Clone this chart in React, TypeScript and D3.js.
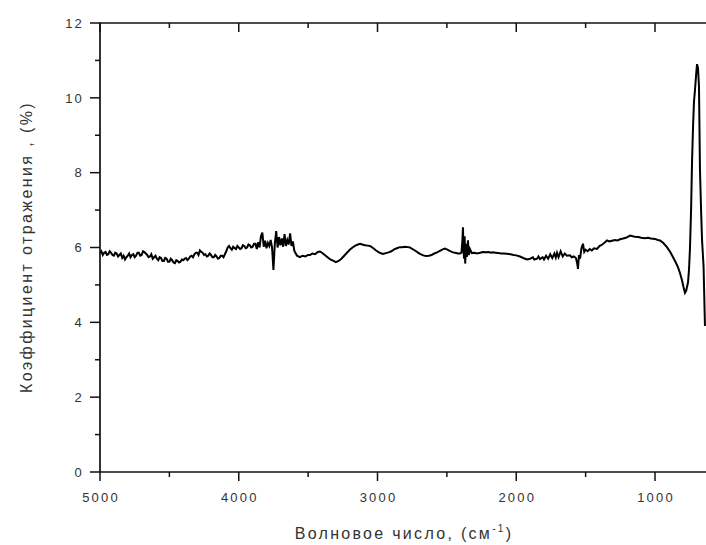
import React from "react";
import * as d3 from "d3";

const wavenumbers: number[] = [
  5000, 4990, 4980, 4970, 4960, 4950, 4940, 4930, 4920, 4910, 4900, 4890, 4880, 4870, 4860, 4850,
  4840, 4830, 4820, 4810, 4800, 4790, 4780, 4770, 4760, 4750, 4740, 4730, 4720, 4710, 4700, 4690,
  4680, 4670, 4660, 4650, 4640, 4630, 4620, 4610, 4600, 4590, 4580, 4570, 4560, 4550, 4540, 4530,
  4520, 4510, 4500, 4490, 4480, 4470, 4460, 4450, 4440, 4430, 4420, 4410, 4400, 4390, 4380, 4370,
  4360, 4350, 4340, 4330, 4320, 4310, 4300, 4290, 4280, 4270, 4260, 4250, 4240, 4230, 4220, 4210,
  4200, 4190, 4180, 4170, 4160, 4150, 4140, 4130, 4120, 4110, 4100, 4090, 4080, 4070, 4060, 4050,
  4040, 4030, 4020, 4010, 4000, 3990, 3980, 3970, 3960, 3950, 3940, 3930, 3920, 3910, 3900, 3890,
  3880, 3870, 3860, 3850, 3840, 3830, 3820, 3810, 3800, 3790, 3780, 3770, 3760, 3750, 3740, 3730,
  3720, 3710, 3700, 3690, 3680, 3670, 3660, 3650, 3640, 3630, 3620, 3610, 3600,
  3595, 3580, 3560, 3540, 3520, 3500, 3486, 3470, 3450, 3430, 3414, 3400, 3380, 3360, 3340, 3321,
  3300, 3280, 3260, 3240, 3220, 3200, 3180, 3160, 3140, 3126, 3110, 3090, 3070, 3054, 3030, 3010,
  2990, 2970, 2960, 2940, 2920, 2900, 2880, 2860, 2840, 2823, 2800, 2780, 2766, 2750, 2730, 2710,
  2694, 2670, 2650, 2630, 2610, 2590, 2571, 2550, 2530, 2514, 2500, 2480, 2456, 2440, 2420, 2405,
  2395, 2388, 2384, 2380, 2376, 2372, 2368, 2362, 2356, 2348, 2342, 2334, 2320, 2300, 2283, 2260,
  2240, 2220, 2200, 2180, 2168, 2150, 2130, 2110, 2090, 2067, 2040, 2020, 2000, 1973, 1950, 1923,
  1900, 1880, 1870, 1850, 1840, 1829, 1810, 1800, 1785, 1770, 1755, 1740, 1725, 1715, 1706, 1695,
  1680, 1665, 1650, 1635, 1613, 1600, 1585, 1570, 1562, 1555, 1548, 1540, 1530, 1519, 1510, 1500,
  1485, 1470, 1455, 1440, 1418, 1400, 1380, 1360, 1346, 1330, 1310, 1290, 1270, 1252, 1230, 1210,
  1190, 1180, 1160, 1144, 1120, 1100, 1072, 1050, 1030, 1000, 980, 964, 940, 914, 890, 870,
  850, 834, 820, 805, 795, 784, 775, 762, 755, 748, 740, 733, 726, 719, 712, 704,
  697, 690, 683, 676, 668, 661, 650, 640,
];

const reflectance: number[] = [
  5.85, 5.9, 5.8, 5.86, 5.88, 5.8, 5.82, 5.9, 5.86, 5.8, 5.78, 5.86, 5.84, 5.76, 5.8, 5.84,
  5.72, 5.78, 5.68, 5.74, 5.78, 5.84, 5.74, 5.8, 5.82, 5.74, 5.78, 5.86, 5.86, 5.78, 5.8, 5.9,
  5.88, 5.84, 5.8, 5.74, 5.76, 5.82, 5.7, 5.74, 5.78, 5.7, 5.66, 5.74, 5.72, 5.64, 5.64, 5.72,
  5.7, 5.62, 5.62, 5.7, 5.66, 5.6, 5.58, 5.66, 5.64, 5.6, 5.62, 5.68, 5.66, 5.7, 5.72, 5.66,
  5.7, 5.76, 5.78, 5.74, 5.82, 5.86, 5.86, 5.8, 5.92, 5.88, 5.86, 5.8, 5.82, 5.76, 5.78, 5.84,
  5.8, 5.74, 5.74, 5.8, 5.76, 5.7, 5.72, 5.78, 5.78, 5.74, 5.82, 5.9, 6.0, 6.04, 5.98, 5.94,
  6.02, 5.98, 5.96, 6.04, 6.0, 5.96, 5.98, 6.06, 6.04, 5.98, 6.0, 6.08, 6.06, 6.0, 6.02, 6.1,
  6.1, 5.96, 6.14, 6.0, 6.3, 6.4, 6.02, 6.18, 5.98, 6.12, 6.04, 6.2, 6.0, 5.4, 6.1, 6.44,
  6.0, 6.28, 6.06, 6.24, 6.02, 6.36, 6.04, 6.2, 6.08, 6.38, 6.04, 6.16, 5.92,
  5.88, 5.78, 5.74, 5.78, 5.76, 5.8, 5.8, 5.84, 5.82, 5.88, 5.89, 5.86, 5.8, 5.74, 5.68, 5.65,
  5.61, 5.64, 5.7, 5.78, 5.86, 5.94, 6.0, 6.05, 6.08, 6.1, 6.08, 6.06, 6.05, 6.04, 5.98, 5.92,
  5.87, 5.84, 5.83, 5.85, 5.87, 5.9, 5.95, 5.98, 6.01, 6.01, 6.02, 6.01, 6.0, 5.96, 5.92, 5.87,
  5.83, 5.79, 5.77, 5.78, 5.8, 5.84, 5.87, 5.91, 5.95, 5.97, 5.95, 5.91, 5.87, 5.86, 5.84, 5.84,
  5.86, 6.2, 6.54, 5.9, 5.7, 6.3, 5.57, 6.1, 5.75, 6.19, 5.8, 5.96, 5.85, 5.86, 5.84, 5.86,
  5.88, 5.87, 5.88, 5.86, 5.87, 5.86, 5.85, 5.84, 5.84, 5.83, 5.82, 5.8, 5.79, 5.76, 5.72, 5.68,
  5.7, 5.74, 5.68, 5.7, 5.76, 5.69, 5.74, 5.68, 5.78, 5.7, 5.82, 5.72, 5.84, 5.73, 5.86, 5.74,
  5.9, 5.76, 5.84, 5.78, 5.79, 5.74, 5.76, 5.72, 5.6, 5.43, 5.8, 5.7, 5.98, 6.1, 5.88, 5.94,
  5.9, 5.96, 5.92, 5.98, 5.96, 6.04, 6.08, 6.14, 6.19, 6.16, 6.18, 6.2, 6.19, 6.22, 6.24, 6.26,
  6.3, 6.32, 6.3, 6.29, 6.28, 6.26, 6.25, 6.26, 6.24, 6.23, 6.2, 6.19, 6.12, 6.01, 5.88, 5.74,
  5.6, 5.47, 5.32, 5.12, 4.95, 4.79, 4.85, 5.07, 5.4, 5.97, 7.0, 8.3, 9.2, 9.9, 10.2, 10.6,
  10.9, 10.8, 10.3, 8.1, 7.0, 6.2, 5.5, 3.9,
];

const xMajorTicks: number[] = [5000, 4000, 3000, 2000, 1000];
const xMinorTicks: number[] = [4500, 3500, 2500, 1500, 500];
const yMajorTicks: number[] = [0, 2, 4, 6, 8, 10, 12];
const yMinorTicks: number[] = [1, 3, 5, 7, 9, 11];

const xTitle = "Волновое число, (см";
const xTitleSup = "-1";
const yTitle = "Коэффициент отражения , (%)";

export default function App() {
  const W = 706;
  const H = 545;
  const left = 100;
  const top = 23;
  const bottom = 472;
  const x = d3.scaleLinear().domain([5000, 1000]).range([left, 655]);
  const y = d3.scaleLinear().domain([0, 12]).range([bottom, top]);
  const rightEdge = W + 10;

  const pts: [number, number][] = wavenumbers.map((w, i) => [w, reflectance[i]]);
  const line = d3
    .line<[number, number]>()
    .x((d) => x(d[0]))
    .y((d) => y(d[1]));

  const axisColor = "#111";
  const textColor = "#333";
  const font = "'Liberation Sans', Arial, sans-serif";

  return (
    <svg
      width={W}
      height={H}
      style={{ position: "absolute", left: 0, top: 0, background: "#fff" }}
    >
      <rect x={0} y={0} width={W} height={H} fill="#fff" />
      <path d={line(pts) || ""} fill="none" stroke="#000" strokeWidth={2} strokeLinejoin="miter" />

      {/* axes lines */}
      <line x1={left} y1={top} x2={left} y2={bottom} stroke={axisColor} strokeWidth={1.7} />
      <line x1={left - 1} y1={bottom} x2={rightEdge} y2={bottom} stroke={axisColor} strokeWidth={1.7} />
      <line x1={left - 1} y1={top} x2={rightEdge} y2={top} stroke={axisColor} strokeWidth={1.5} />

      {/* x ticks */}
      {xMajorTicks.map((t) => (
        <g key={"xm" + t}>
          <line x1={x(t)} x2={x(t)} y1={bottom} y2={bottom + 9} stroke={axisColor} strokeWidth={1.5} />
          <line x1={x(t)} x2={x(t)} y1={top} y2={top + 9} stroke={axisColor} strokeWidth={1.5} />
          <text
            x={x(t) + 1}
            y={502}
            textAnchor="middle"
            fontFamily={font}
            fontSize={13}
            letterSpacing={2.2}
            fill={textColor}
          >
            {t}
          </text>
        </g>
      ))}
      {xMinorTicks.map((t) => (
        <g key={"xn" + t}>
          <line x1={x(t)} x2={x(t)} y1={bottom} y2={bottom + 5} stroke={axisColor} strokeWidth={1.5} />
          <line x1={x(t)} x2={x(t)} y1={top} y2={top + 5} stroke={axisColor} strokeWidth={1.5} />
        </g>
      ))}

      {/* y ticks */}
      {yMajorTicks.map((t) => (
        <g key={"ym" + t}>
          <line x1={left - 10} x2={left} y1={y(t)} y2={y(t)} stroke={axisColor} strokeWidth={1.5} />
          <text
            x={84}
            y={y(t)}
            dy="0.36em"
            textAnchor="end"
            fontFamily={font}
            fontSize={13}
            letterSpacing={2.2}
            fill={textColor}
          >
            {t}
          </text>
        </g>
      ))}
      {yMinorTicks.map((t) => (
        <line key={"yn" + t} x1={left - 5} x2={left} y1={y(t)} y2={y(t)} stroke={axisColor} strokeWidth={1.5} />
      ))}

      {/* titles */}
      <text
        x={404}
        y={539}
        textAnchor="middle"
        fontFamily={font}
        fontSize={16}
        letterSpacing={2.3}
        fill={textColor}
      >
        {xTitle}
        <tspan dy={-7} fontSize={10}>{xTitleSup}</tspan>
        <tspan dy={7}>)</tspan>
      </text>
      <text
        transform={`translate(32, 247) rotate(-90)`}
        textAnchor="middle"
        fontFamily={font}
        fontSize={16}
        letterSpacing={2.4}
        fill={textColor}
      >
        {yTitle}
      </text>
    </svg>
  );
}
